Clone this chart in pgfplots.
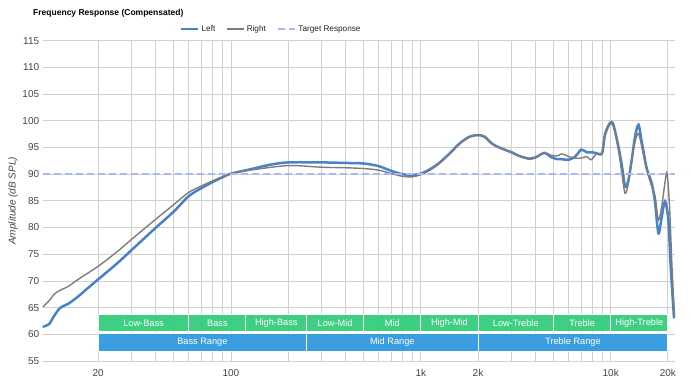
\documentclass[border=0pt]{standalone}
\usepackage{fontspec}
\setmainfont{Liberation Sans}
\usepackage{pgfplots}
\usepackage{pgfplotstable}
\pgfplotsset{compat=1.18}
\definecolor{leftc}{RGB}{72,130,200}
\definecolor{rightc}{RGB}{125,125,125}
\definecolor{targetc}{RGB}{170,185,245}
\definecolor{bandg}{RGB}{51,204,122}
\definecolor{bandb}{RGB}{48,152,224}
\definecolor{gridc}{RGB}{208,208,208}
\definecolor{hgridc}{RGB}{224,224,224}
\definecolor{tickc}{RGB}{68,68,68}
\definecolor{legc}{RGB}{34,34,34}

\pgfplotstableread{
f db
10.2 61.4
11.0 61.9
11.6 63.2
12.4 64.7
13.1 65.3
13.95 65.75
15.7 67.1
17.7 68.7
20 70.3
25 73.2
30 75.8
35 78.0
40 79.9
50 83.0
60 85.9
70 87.4
80 88.5
90 89.4
100 90.1
126 90.9
160 91.75
200 92.2
300 92.2
400 92.1
500 92.0
600 91.5
700 90.6
800 90.0
900 89.85
1000 90.1
1113 90.9
1240 92.0
1420 93.9
1600 95.75
1800 97.0
2000 97.3
2170 97.0
2350 95.8
2550 95.1
2800 94.5
3000 94.1
3300 93.4
3740 92.9
4000 93.1
4480 94.0
4800 93.3
5200 92.8
5520 92.8
6000 92.7
6500 93.3
7000 94.6
7470 94.1
8000 94.1
8440 93.9
9000 93.9
9330 97.4
9920 99.6
10330 99.25
10970 95.2
11430 91.75
11900 87.7
12390 88.9
12900 92.7
13430 97.0
14000 99.25
14560 96.1
15470 91.1
16440 88.3
17130 84.6
17830 78.9
18560 82.0
19320 84.9
20110 81.4
20690 72.7
21540 63.0
}\lefttable

\pgfplotstableread{
f db
10.2 65.1
11.0 66.25
11.8 67.6
12.6 68.25
13.95 69.0
15.7 70.3
20 72.75
25 75.4
30 77.8
40 81.5
50 84.3
60 86.6
70 87.8
80 88.75
90 89.5
100 90.1
126 90.75
200 91.6
300 91.3
400 91.2
500 91.05
600 90.75
700 90.1
800 89.6
900 89.5
1000 89.9
1113 90.7
1240 91.9
1420 93.8
1600 95.7
1800 97.0
2000 97.35
2170 97.1
2350 95.9
2550 95.1
2800 94.5
3000 94.2
3300 93.4
3740 92.8
4000 93.1
4480 94.0
4800 93.6
5200 93.4
5520 93.8
6000 93.3
6500 93.0
7000 93.0
7470 93.3
7900 92.7
8440 93.9
9000 94.1
9330 97.7
9800 99.4
10330 98.9
10970 94.6
11430 90.2
11900 86.4
12390 88.3
12900 92.7
13430 96.1
14000 97.6
14560 95.2
15470 90.8
16440 87.7
17130 85.8
17830 81.4
18560 84.0
19320 88.5
19800 90.2
20400 84.0
21060 72.0
21700 63.3
}\righttable

\begin{document}
\begin{tikzpicture}
\begin{axis}[
  name=ax,
  scale only axis, width=632.3pt, height=320.3pt,
  xmode=log, xmin=10.2, xmax=21800, ymin=55, ymax=115,
  ytick={55,60,...,115},
  xtick={20,100,1000,2000,10000,20000},
  xticklabels={20,100,1k,2k,10k,20k},
  minor xtick={30,40,50,60,70,80,90,200,300,400,500,600,700,800,900,3000,4000,5000,6000,7000,8000,9000},
  xmajorgrids, xminorgrids, ymajorgrids,
  major grid style={gridc, line width=0.8pt},
  minor grid style={gridc, line width=0.8pt},
  axis line style={draw=none},
  major tick length=0pt, minor tick length=0pt,
  /pgf/number format/assume math mode=true,
  tick label style={font=\fontsize{10}{12}\selectfont, text=tickc},
  xticklabel style={yshift=-4.7pt},
  ylabel={Amplitude (dB SPL)},
  ylabel style={at={(axis description cs:-0.047,0.5)}, anchor=center, font=\itshape\fontsize{10}{12}\selectfont, text=tickc},
  title={Frequency Response (Compensated)},
  title style={at={(axis description cs:-0.0153,1.0896)}, anchor=west, yshift=-7pt, font=\bfseries\fontsize{8.5}{10}\selectfont, inner sep=0pt},
  legend style={at={(axis description cs:0.2171,1.0365)}, anchor=west, draw=none, fill=none,
    font=\fontsize{8.2}{10}\selectfont, text=legc, inner sep=0pt,
    /tikz/every even column/.append style={column sep=9pt}},
  legend columns=-1,
  legend image code/.code={\draw[#1] (0pt,0pt) -- (17pt,0pt);},
]
% frequency range bands
\begin{scope}[draw=white, line width=1pt, fill opacity=0.94]
\filldraw[fill=bandg] (axis cs:20,60.5) rectangle (axis cs:60,63.75);
\filldraw[fill=bandg] (axis cs:60,60.5) rectangle (axis cs:120,63.75);
\filldraw[fill=bandg] (axis cs:120,60.5) rectangle (axis cs:250,63.75);
\filldraw[fill=bandg] (axis cs:250,60.5) rectangle (axis cs:500,63.75);
\filldraw[fill=bandg] (axis cs:500,60.5) rectangle (axis cs:1000,63.75);
\filldraw[fill=bandg] (axis cs:1000,60.5) rectangle (axis cs:2000,63.75);
\filldraw[fill=bandg] (axis cs:2000,60.5) rectangle (axis cs:5000,63.75);
\filldraw[fill=bandg] (axis cs:5000,60.5) rectangle (axis cs:10000,63.75);
\filldraw[fill=bandg] (axis cs:10000,60.5) rectangle (axis cs:20000,63.75);
\filldraw[fill=bandb] (axis cs:20,56.7) rectangle (axis cs:250,60.2);
\filldraw[fill=bandb] (axis cs:250,56.7) rectangle (axis cs:2000,60.2);
\filldraw[fill=bandb] (axis cs:2000,56.7) rectangle (axis cs:20000,60.2);
\end{scope}
\begin{scope}[every node/.style={font=\fontsize{9.2}{11}\selectfont, text=white, inner sep=0pt}]
\node at (axis cs:34.64,62.12) {Low-Bass};
\node at (axis cs:84.85,62.12) {Bass};
\node at (axis cs:173.2,62.12) {High-Bass};
\node at (axis cs:353.6,62.12) {Low-Mid};
\node at (axis cs:707.1,62.12) {Mid};
\node at (axis cs:1414.2,62.12) {High-Mid};
\node at (axis cs:3162.3,62.12) {Low-Treble};
\node at (axis cs:7071,62.12) {Treble};
\node at (axis cs:14142,62.12) {High-Treble};
\node at (axis cs:70.71,58.45) {Bass Range};
\node at (axis cs:707.1,58.45) {Mid Range};
\node at (axis cs:6324.6,58.45) {Treble Range};
\end{scope}
\addplot[leftc, line width=2.5pt, smooth, tension=0.5] table[x=f, y=db] {\lefttable};
\addlegendentry{Left}
\addplot[rightc, line width=1.4pt, smooth, tension=0.5] table[x=f, y=db] {\righttable};
\addlegendentry{Right}
\addplot[targetc, line width=2.6pt, dash pattern=on 7pt off 4pt] coordinates {(10.2,90) (21800,90)};
\addlegendentry{Target Response}
\end{axis}
\path ([shift={(-42.7pt,-19pt)}]ax.south west) rectangle ([shift={(16pt,40.7pt)}]ax.north east);
\end{tikzpicture}
\end{document}
